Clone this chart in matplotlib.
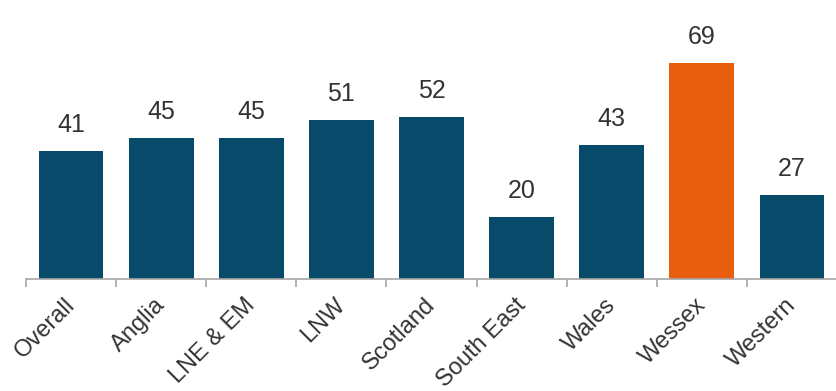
import matplotlib.pyplot as plt
import matplotlib.transforms as mtransforms
import numpy as np

plt.rcParams['font.family'] = ['Liberation Sans', 'DejaVu Sans']

# data
regions = ['Overall', 'Anglia', 'LNE & EM', 'LNW', 'Scotland',
           'South East', 'Wales', 'Wessex', 'Western']
values = [41, 45, 45, 51, 52, 20, 43, 69, 27]
highlight = 'Wessex'

blue = '#074A6A'
orange = '#E95D0F'
text_col = '#333333'
axis_col = '#A6A6A6'

fig = plt.figure(figsize=(8.37, 3.91), dpi=100)
ax = fig.add_axes([26/837, 1 - 279/391, 811/837, 250/391])

x = np.arange(len(regions))
colors = [orange if r == highlight else blue for r in regions]
bars = ax.bar(x, values, width=0.72, color=colors)

for xi, v in zip(x, values):
    ax.annotate(str(v), (xi, v), xytext=(0, 10), textcoords='offset points',
                ha='center', va='bottom', fontsize=18, color=text_col)

ax.set_xlim(-0.5, len(regions) - 0.5)
ax.set_ylim(0, 80)

# ticks at the category boundaries, labels at centres
ax.set_xticks(np.arange(len(regions) + 1) - 0.5)
ax.set_xticklabels([])
ax.tick_params(axis='x', which='major', length=6, width=1.2, color=axis_col)
ax.set_xticks(x, minor=True)
ax.set_xticklabels(regions, minor=True, rotation=45, ha='right',
                   rotation_mode='anchor', fontsize=17, color=text_col)
ax.tick_params(axis='x', which='minor', length=0, pad=7)
shift = mtransforms.ScaledTranslation(-0.07, -0.05, fig.dpi_scale_trans)
for lbl in ax.get_xticklabels(minor=True):
    lbl.set_transform(lbl.get_transform() + shift)

ax.set_yticks([])
for s in ['top', 'right', 'left']:
    ax.spines[s].set_visible(False)
ax.spines['bottom'].set_color(axis_col)
ax.spines['bottom'].set_linewidth(1.2)

fig.savefig('out.png', dpi=100)
